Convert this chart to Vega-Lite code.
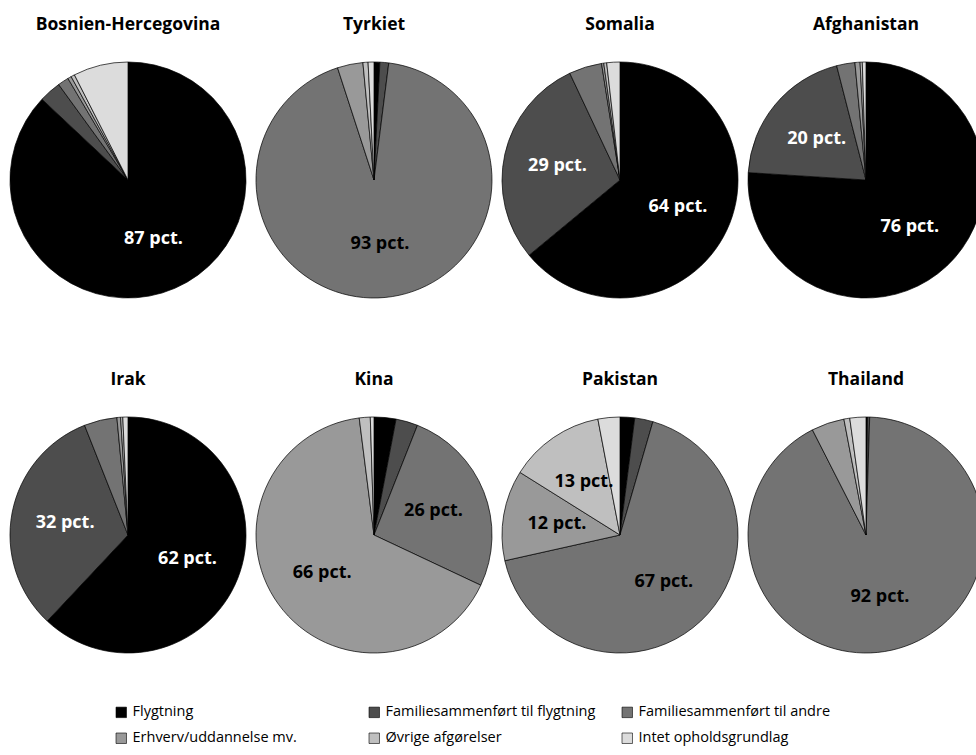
{
  "$schema": "https://vega.github.io/schema/vega-lite/v6.json",
  "padding": {"left": 8, "top": 15, "right": 5, "bottom": 5},
  "background": "white",
  "data": {"values": [
    {"land": "Bosnien-Hercegovina", "kategori": "Flygtning", "pct": 87},
    {"land": "Bosnien-Hercegovina", "kategori": "Familiesammenført til flygtning", "pct": 3},
    {"land": "Bosnien-Hercegovina", "kategori": "Familiesammenført til andre", "pct": 1.5},
    {"land": "Bosnien-Hercegovina", "kategori": "Erhverv/uddannelse mv.", "pct": 0.5},
    {"land": "Bosnien-Hercegovina", "kategori": "Øvrige afgørelser", "pct": 0.5},
    {"land": "Bosnien-Hercegovina", "kategori": "Intet opholdsgrundlag", "pct": 7.5},
    {"land": "Tyrkiet", "kategori": "Flygtning", "pct": 0.8},
    {"land": "Tyrkiet", "kategori": "Familiesammenført til flygtning", "pct": 1.2},
    {"land": "Tyrkiet", "kategori": "Familiesammenført til andre", "pct": 93},
    {"land": "Tyrkiet", "kategori": "Erhverv/uddannelse mv.", "pct": 3.5},
    {"land": "Tyrkiet", "kategori": "Øvrige afgørelser", "pct": 0.7},
    {"land": "Tyrkiet", "kategori": "Intet opholdsgrundlag", "pct": 0.8},
    {"land": "Somalia", "kategori": "Flygtning", "pct": 64},
    {"land": "Somalia", "kategori": "Familiesammenført til flygtning", "pct": 29},
    {"land": "Somalia", "kategori": "Familiesammenført til andre", "pct": 4.5},
    {"land": "Somalia", "kategori": "Erhverv/uddannelse mv.", "pct": 0.3},
    {"land": "Somalia", "kategori": "Øvrige afgørelser", "pct": 0.4},
    {"land": "Somalia", "kategori": "Intet opholdsgrundlag", "pct": 1.8},
    {"land": "Afghanistan", "kategori": "Flygtning", "pct": 76},
    {"land": "Afghanistan", "kategori": "Familiesammenført til flygtning", "pct": 20},
    {"land": "Afghanistan", "kategori": "Familiesammenført til andre", "pct": 2.5},
    {"land": "Afghanistan", "kategori": "Erhverv/uddannelse mv.", "pct": 0.7},
    {"land": "Afghanistan", "kategori": "Øvrige afgørelser", "pct": 0.3},
    {"land": "Afghanistan", "kategori": "Intet opholdsgrundlag", "pct": 0.5},
    {"land": "Irak", "kategori": "Flygtning", "pct": 62},
    {"land": "Irak", "kategori": "Familiesammenført til flygtning", "pct": 32},
    {"land": "Irak", "kategori": "Familiesammenført til andre", "pct": 4.5},
    {"land": "Irak", "kategori": "Erhverv/uddannelse mv.", "pct": 0.5},
    {"land": "Irak", "kategori": "Øvrige afgørelser", "pct": 0.3},
    {"land": "Irak", "kategori": "Intet opholdsgrundlag", "pct": 0.7},
    {"land": "Kina", "kategori": "Flygtning", "pct": 3},
    {"land": "Kina", "kategori": "Familiesammenført til flygtning", "pct": 3},
    {"land": "Kina", "kategori": "Familiesammenført til andre", "pct": 26},
    {"land": "Kina", "kategori": "Erhverv/uddannelse mv.", "pct": 66},
    {"land": "Kina", "kategori": "Øvrige afgørelser", "pct": 1.5},
    {"land": "Kina", "kategori": "Intet opholdsgrundlag", "pct": 0.5},
    {"land": "Pakistan", "kategori": "Flygtning", "pct": 2},
    {"land": "Pakistan", "kategori": "Familiesammenført til flygtning", "pct": 2.5},
    {"land": "Pakistan", "kategori": "Familiesammenført til andre", "pct": 67},
    {"land": "Pakistan", "kategori": "Erhverv/uddannelse mv.", "pct": 12.4},
    {"land": "Pakistan", "kategori": "Øvrige afgørelser", "pct": 13.1},
    {"land": "Pakistan", "kategori": "Intet opholdsgrundlag", "pct": 3},
    {"land": "Thailand", "kategori": "Flygtning", "pct": 0.2},
    {"land": "Thailand", "kategori": "Familiesammenført til flygtning", "pct": 0.3},
    {"land": "Thailand", "kategori": "Familiesammenført til andre", "pct": 92},
    {"land": "Thailand", "kategori": "Erhverv/uddannelse mv.", "pct": 4.5},
    {"land": "Thailand", "kategori": "Øvrige afgørelser", "pct": 0.8},
    {"land": "Thailand", "kategori": "Intet opholdsgrundlag", "pct": 2.2}
  ]},
  "transform": [
    {"calculate": "indexof(['Flygtning','Familiesammenført til flygtning','Familiesammenført til andre','Erhverv/uddannelse mv.','Øvrige afgørelser','Intet opholdsgrundlag'], datum.kategori)", "as": "rk"},
    {"calculate": "datum.pct >= 10 ? format(datum.pct, '.0f') + ' pct.' : ''", "as": "lbl"}
  ],
  "facet": {
    "field": "land", "type": "nominal",
    "sort": ["Bosnien-Hercegovina", "Tyrkiet", "Somalia", "Afghanistan", "Irak", "Kina", "Pakistan", "Thailand"],
    "header": {"title": null, "labelFont": "Open Sans", "labelFontSize": 17.5, "labelFontWeight": "bold", "labelColor": "black", "labelPadding": 27}
  },
  "columns": 4,
  "spacing": {"column": 6, "row": 70},
  "spec": {
    "width": 200,
    "height": 240,
    "encoding": {
      "theta": {"field": "pct", "type": "quantitative", "stack": true},
      "order": {"field": "rk", "type": "quantitative"}
    },
    "layer": [
      {
        "mark": {"type": "arc", "outerRadius": 118, "stroke": "black", "strokeWidth": 0.7},
        "encoding": {
          "color": {
            "field": "kategori", "type": "nominal",
            "scale": {
              "domain": ["Flygtning", "Familiesammenført til flygtning", "Familiesammenført til andre", "Erhverv/uddannelse mv.", "Øvrige afgørelser", "Intet opholdsgrundlag"],
              "range": ["#000000", "#4d4d4d", "#737373", "#999999", "#bfbfbf", "#dcdcdc"]
            },
            "legend": {
              "orient": "none", "legendX": 86, "legendY": 645,
              "columns": 3, "direction": "horizontal", "title": null,
              "symbolType": "square", "symbolSize": 110, "symbolStrokeColor": "black", "symbolStrokeWidth": 0.6,
              "labelFont": "Open Sans", "labelFontSize": 14.5, "labelColor": "black", "labelLimit": 300,
              "columnPadding": 24, "rowPadding": 11, "gridAlign": "all"
            }
          }
        }
      },
      {
        "mark": {"type": "text", "radius": 64, "font": "Open Sans", "fontSize": 18, "fontWeight": "bold"},
        "encoding": {
          "text": {"field": "lbl", "type": "nominal"},
          "color": {"condition": {"test": "datum.rk < 2", "value": "white"}, "value": "black"}
        }
      }
    ]
  },
  "resolve": {"scale": {"theta": "independent"}},
  "config": {"view": {"stroke": null}}
}
